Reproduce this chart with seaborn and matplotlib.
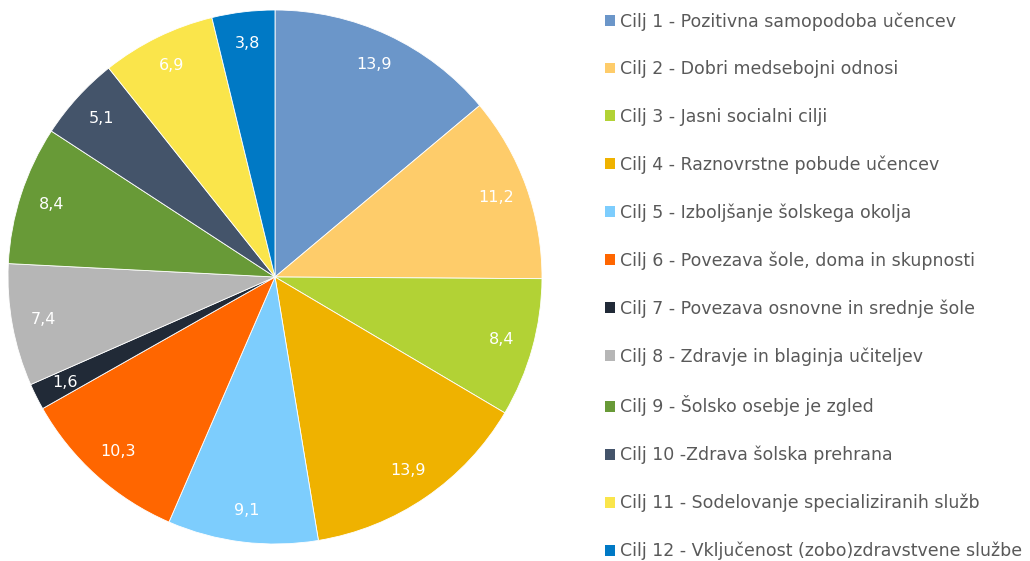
import matplotlib
matplotlib.use("Agg")
import matplotlib.pyplot as plt
import seaborn as sns
from matplotlib.patches import Patch

goals = [
    "Cilj 1 - Pozitivna samopodoba učencev",
    "Cilj 2 - Dobri medsebojni odnosi",
    "Cilj 3 - Jasni socialni cilji",
    "Cilj 4 - Raznovrstne pobude učencev",
    "Cilj 5 - Izboljšanje šolskega okolja",
    "Cilj 6 - Povezava šole, doma in skupnosti",
    "Cilj 7 - Povezava osnovne in srednje šole",
    "Cilj 8 - Zdravje in blaginja učiteljev",
    "Cilj 9 - Šolsko osebje je zgled",
    "Cilj 10 -Zdrava šolska prehrana",
    "Cilj 11 - Sodelovanje specializiranih služb",
    "Cilj 12 - Vključenost (zobo)zdravstvene službe",
]
shares = [13.9, 11.2, 8.4, 13.9, 9.1, 10.3, 1.6, 7.4, 8.4, 5.1, 6.9, 3.8]
colors = ["#6B96C9", "#FECC6A", "#B2D235", "#EFB200", "#7DCDFD", "#FF6600",
          "#212A37", "#B6B6B6", "#689A37", "#44546A", "#FAE54B", "#0079C5"]

sns.set_theme(style="white")
plt.rcParams['font.family'] = ['DejaVu Sans']
palette = sns.color_palette(colors)

fig = plt.figure(figsize=(10.30, 5.61), dpi=100)
ax = fig.add_axes([8 / 1030, 17 / 561, 534 / 1030, 534 / 561])

wedges, texts = ax.pie(
    shares, colors=palette, startangle=90, counterclock=False,
    labels=[f"{v:.1f}".replace(".", ",") for v in shares],
    labeldistance=0.88,
    wedgeprops=dict(edgecolor="white", linewidth=0.6),
    textprops=dict(color="white", fontsize=11.5, ha="center", va="center"),
)
for t in texts:
    t.set_horizontalalignment("center")
ax.set_xlim(-1, 1)
ax.set_ylim(-1, 1)
ax.set_aspect("equal")

handles = [Patch(facecolor=c, edgecolor="none") for c in palette]
fig.legend(handles, goals, loc="upper left", bbox_to_anchor=(593 / 1030, 1.0),
           frameon=False, fontsize=12.5, labelcolor="#595959",
           handlelength=0.58, handleheight=0.58, handletextpad=0.3,
           labelspacing=1.7, borderaxespad=0.3)

fig.savefig("out.png", dpi=100)
